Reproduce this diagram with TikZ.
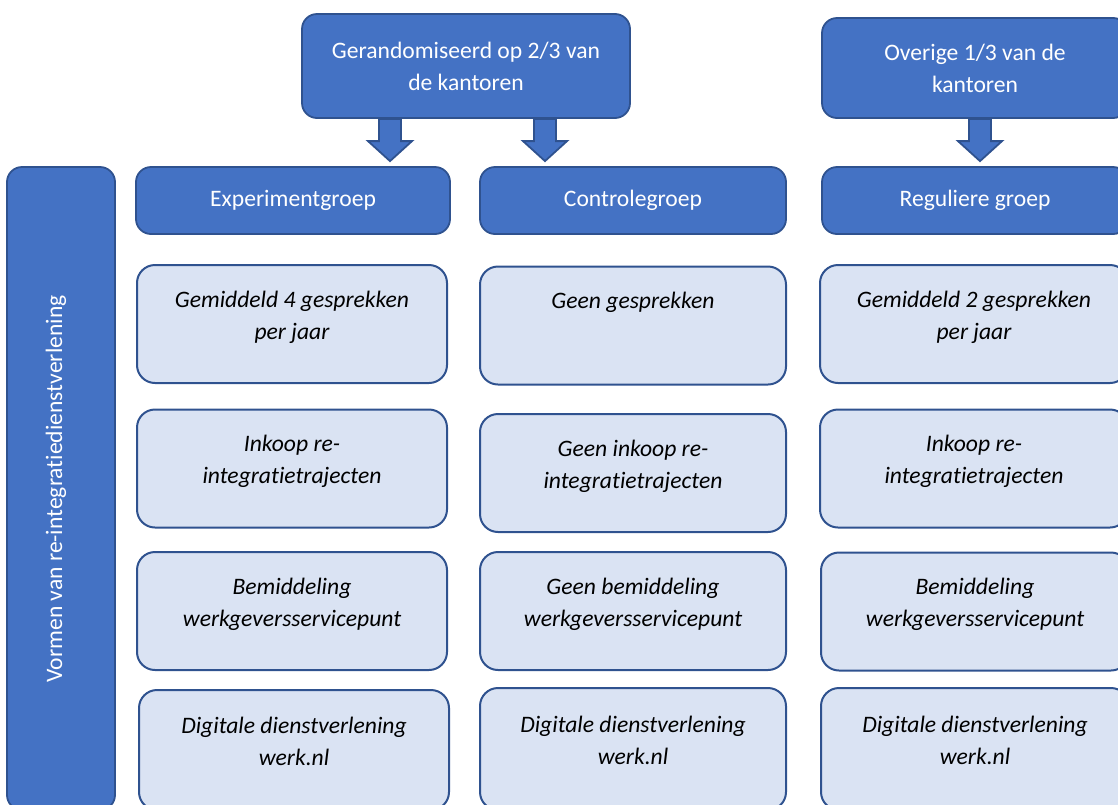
\documentclass[tikz,border=0pt]{standalone}
\usepackage{fontspec}
\setmainfont{Carlito}[Ligatures=NoCommon]
\usetikzlibrary{calc}
\definecolor{darkfill}{HTML}{4472C4}
\definecolor{edgeblue}{HTML}{2F528F}
\definecolor{lightfill}{HTML}{DAE3F3}
\newcommand{\boxtext}[1]{\parbox[c][118pt][t]{300pt}{\centering\vspace*{20pt}\strut#1}}

\begin{document}
\begin{tikzpicture}[x=1pt,y=-1pt,
  darkbox/.style={draw=edgeblue, fill=darkfill, line width=1.8pt, rounded corners=15pt,
    inner sep=0pt, text=white, align=center, font=\fontsize{23.6}{32}\selectfont},
  lightbox/.style={draw=edgeblue, fill=lightfill, line width=2pt, rounded corners=18pt,
    inner sep=0pt, minimum width=308pt, minimum height=118pt,
    font=\fontsize{23.6}{32}\selectfont\itshape},
  blockarrow/.style={draw=edgeblue, fill=darkfill, line width=1.8pt,
    to path={let \p1=(\tikztostart), \p2=(\tikztotarget) in
      (\x1-11pt,\y1) -- (\x1-11pt,\y2+25pt) -- (\x1-22pt,\y2+25pt) -- (\x2,\y2+5pt)
      -- (\x1+22pt,\y2+25pt) -- (\x1+11pt,\y2+25pt) -- (\x1+11pt,\y1) -- cycle}}]
\useasboundingbox (0,0) rectangle (1118,804);
\clip (0,0) rectangle (1118,804);

\node[darkbox, minimum width=328pt, minimum height=104pt] (rnd) at (466,66) {Gerandomiseerd op 2/3 van\\de kantoren};
\node[darkbox, minimum width=306pt, minimum height=100pt] (ovr) at (975,68) {Overige 1/3 van de\\kantoren};

\node[darkbox, minimum width=314pt, minimum height=67pt] (exp) at (293,200.5) {Experimentgroep};
\node[darkbox, minimum width=306pt, minimum height=67pt] (ctrl) at (633,200.5) {Controlegroep};
\node[darkbox, minimum width=306pt, minimum height=67pt] (reg) at (975,200.5) {Reguliere groep};

\node[darkbox, minimum width=108pt, minimum height=643pt] (side) at (61,488.5) {};
\node[text=white, rotate=90, font=\fontsize{23.6}{32}\selectfont] (sidetext) at (56,489) {Vormen van re-integratiedienstverlening};

\coordinate (a1) at (390,0);
\coordinate (a2) at (545,0);
\coordinate (a3) at (980,0);
\draw[blockarrow] (rnd.south -| a1) to (exp.north -| a1);
\draw[blockarrow] (rnd.south -| a2) to (ctrl.north -| a2);
\draw[blockarrow] (ovr.south -| a3) to (reg.north -| a3);

\node[lightbox, minimum width=310pt] (e1) at (292,324) {\boxtext{Gemiddeld 4 gesprekken\\per jaar}};
\node[lightbox, minimum width=310pt] (e2) at (292,468.5) {\boxtext{Inkoop re-\\integratietrajecten}};
\node[lightbox, minimum width=310pt] (e3) at (292,611) {\boxtext{Bemiddeling\\werkgeversservicepunt}};
\node[lightbox, minimum width=310pt, minimum height=120pt] (e4) at (294,750) {\boxtext{Digitale dienstverlening\\werk.nl}};

\node[lightbox, minimum width=306pt] (c1) at (633,325.5) {\boxtext{Geen gesprekken}};
\node[lightbox, minimum width=306pt] (c2) at (633,473) {\boxtext{Geen inkoop re-\\integratietrajecten}};
\node[lightbox, minimum width=306pt] (c3) at (633,611) {\boxtext{Geen bemiddeling\\werkgeversservicepunt}};
\node[lightbox, minimum width=306pt, minimum height=122pt] (c4) at (633,749) {\boxtext{Digitale dienstverlening\\werk.nl}};

\node[lightbox] (r1) at (974,324) {\boxtext{Gemiddeld 2 gesprekken\\per jaar}};
\node[lightbox] (r2) at (974,468.5) {\boxtext{Inkoop re-\\integratietrajecten}};
\node[lightbox] (r3) at (975,611.5) {\boxtext{Bemiddeling\\werkgeversservicepunt}};
\node[lightbox, minimum height=122pt] (r4) at (975,749) {\boxtext{Digitale dienstverlening\\werk.nl}};
\end{tikzpicture}
\end{document}
